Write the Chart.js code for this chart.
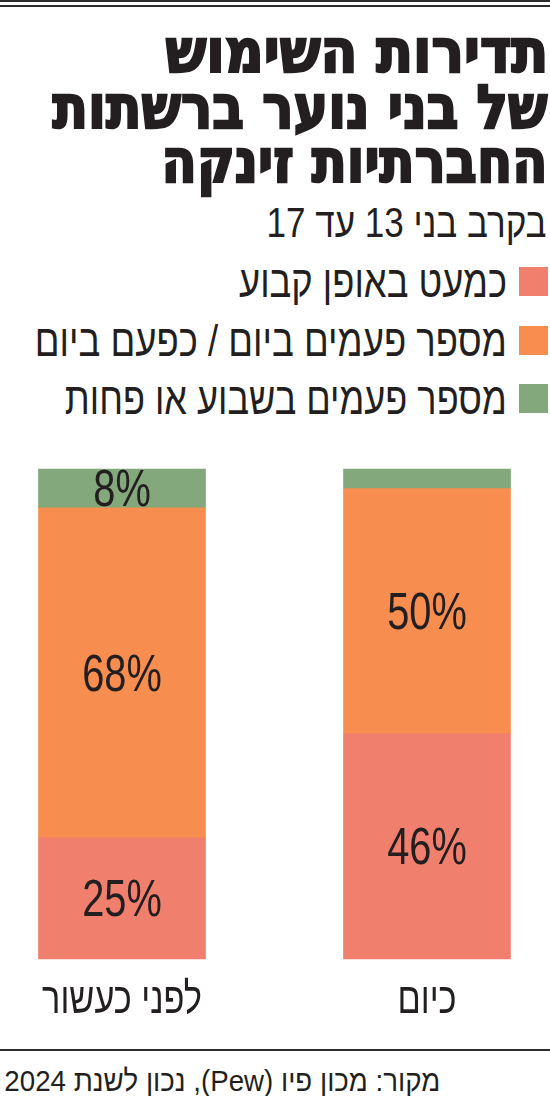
<!DOCTYPE html>
<html lang="he">
<head>
<meta charset="utf-8">
<script src="https://cdn.jsdelivr.net/npm/chart.js@4"></script>
<style>
  html, body { margin: 0; padding: 0; background: #fff; }
  body { width: 550px; height: 1096px; position: relative; overflow: hidden; color: #231f20; }
  .rule { position: absolute; left: 0; width: 550px; background: #2b2b2b; }
  .line { position: absolute; white-space: nowrap; direction: rtl; line-height: 1; transform-origin: right center; }
  .title { font-family: "DejaVu Sans", sans-serif; font-weight: bold; font-size: 60px; -webkit-text-stroke: 2.5px #231f20; }
  .light { font-family: "Liberation Sans", "DejaVu Sans", sans-serif; font-weight: normal; }
  .swatch { position: absolute; width: 29px; height: 29px; }
  #chartBox { position: absolute; left: 0; top: 440px; }
</style>
</head>
<body>
<div class="rule" style="top:0;height:2px"></div>
<div class="rule" style="top:5px;height:2px"></div>

<div id="t1" class="line title" style="right:2px;top:21px">תדירות השימוש</div>
<div id="t2" class="line title" style="right:2px;top:77px">של בני נוער ברשתות</div>
<div id="t3" class="line title" style="right:2px;top:131px">החברתיות זינקה</div>
<div id="sub" class="line light" style="right:3px;top:202px;font-size:42px">בקרב בני 13 עד 17</div>

<div id="legend"></div>

<div id="chartBox"><canvas id="myChart" width="550" height="600"></canvas></div>

<div class="rule" style="top:1049px;height:2px"></div>
<div id="src" class="line light" style="right:110px;top:1066px;font-size:30px">מקור: מכון פיו (Pew), נכון לשנת 2024</div>

<script>
// data (percent of teens)
const categories = ["לפני כעשור", "כיום"];
const almostConstantly = [25, 46];
const severalTimesDaily = [68, 50];
const weeklyOrLess = [8, 4];
const seriesNames = ["כמעט באופן קבוע", "מספר פעמים ביום / כפעם ביום", "מספר פעמים בשבוע או פחות"];

const seriesColors = ["#f17f6e", "#f78e4f", "#82a87b"];
const rawSeries = [almostConstantly, severalTimesDaily, weeklyOrLess];

// 100% stacked: each bar is scaled by its own total
const totals = categories.map((c, i) => rawSeries.reduce((s, arr) => s + arr[i], 0));

function fitLine(el, width) {
  const w = el.getBoundingClientRect().width;
  el.style.transform = `scaleX(${width / w})`;
}

// legend, built from the series names
const legendTops = [259, 318, 376];
const legendWidths = [268, 472, 442];
const legend = document.getElementById("legend");
seriesNames.forEach((name, i) => {
  const sw = document.createElement("div");
  sw.className = "swatch";
  sw.style.left = "519px";
  sw.style.top = (legendTops[i] + 8) + "px";
  sw.style.background = seriesColors[i];
  legend.appendChild(sw);
  const txt = document.createElement("div");
  txt.className = "line light";
  txt.style.right = "43px";
  txt.style.top = legendTops[i] + "px";
  txt.style.fontSize = "45px";
  txt.textContent = name;
  legend.appendChild(txt);
  fitLine(txt, legendWidths[i]);
});

fitLine(document.getElementById("t1"), 383);
fitLine(document.getElementById("t2"), 495);
fitLine(document.getElementById("t3"), 386);
fitLine(document.getElementById("sub"), 280);
fitLine(document.getElementById("src"), 436);

const squeeze = 0.78;

const segmentLabels = {
  id: "segmentLabels",
  afterDatasetsDraw(chart) {
    const { ctx } = chart;
    chart.data.datasets.forEach((ds, di) => {
      const meta = chart.getDatasetMeta(di);
      meta.data.forEach((bar, i) => {
        const v = rawSeries[di][i];
        if (v < 5) return;
        const cy = (bar.y + bar.base) / 2;
        ctx.save();
        ctx.fillStyle = "#231f20";
        ctx.font = "51px 'Liberation Sans', sans-serif";
        ctx.textAlign = "center";
        ctx.textBaseline = "alphabetic";
        ctx.translate(bar.x, cy + 18);
        ctx.scale(squeeze, 1);
        ctx.fillText(`${v}%`, 0, 0);
        ctx.restore();
      });
    });
  },
  afterDraw(chart) {
    const { ctx, chartArea } = chart;
    const xScale = chart.scales.x;
    chart.data.labels.forEach((label, i) => {
      ctx.save();
      ctx.fillStyle = "#231f20";
      ctx.font = "44px 'Liberation Sans', sans-serif";
      ctx.direction = "rtl";
      ctx.textAlign = "center";
      ctx.textBaseline = "alphabetic";
      ctx.translate(xScale.getPixelForValue(i), chartArea.bottom + 54);
      ctx.scale(squeeze, 1);
      ctx.fillText(label, 0, 0);
      ctx.restore();
    });
  }
};

const datasets = seriesNames.map((name, di) => ({
  label: name,
  data: rawSeries[di].map((v, i) => v / totals[i] * 100),
  backgroundColor: seriesColors[di],
  borderWidth: 0,
  barThickness: 167,
  clip: false,
}));

new Chart(document.getElementById("myChart"), {
  type: "bar",
  data: { labels: categories, datasets },
  options: {
    responsive: false,
    animation: false,
    layout: { padding: { top: 29, bottom: 81, left: 122, right: 123 } },
    plugins: { legend: { display: false }, tooltip: { enabled: false } },
    scales: {
      x: { stacked: true, offset: false, display: false },
      y: { stacked: true, min: 0, max: 100, display: false },
    },
  },
  plugins: [segmentLabels],
});
</script>
</body>
</html>
